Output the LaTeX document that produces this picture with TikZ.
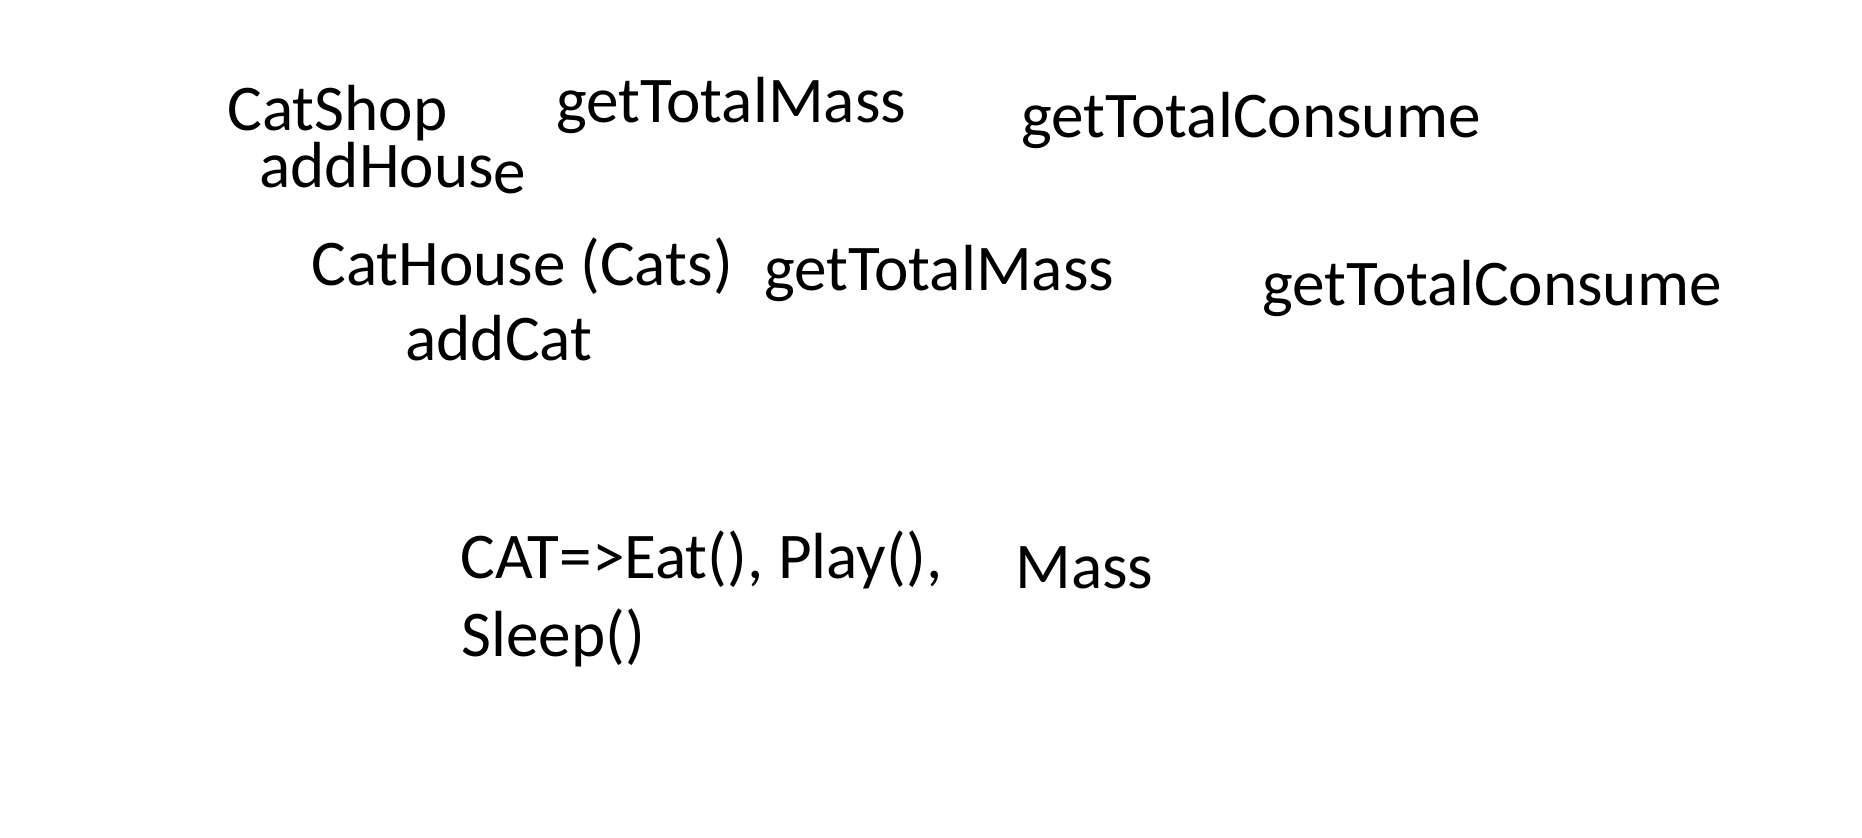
\documentclass[tikz,border=0pt]{standalone}
\usepackage{fontspec}
\setmainfont{Carlito}
\begin{document}
\begin{tikzpicture}[x=0.5pt, y=-0.5pt]
				\tikzstyle{Label} = [anchor=base west, inner sep=0pt, font=\fontsize{32.6}{39}\selectfont]
				\useasboundingbox (0,0) rectangle (1862,838);
				\node (Shop) at (227,131) [Label] {CatShop};
				\node (AddHouse) at (259,188) [Label] {addHous\raisebox{-3pt}{e}};
				\node (ShopMass) at (556,123) [Label] {getTotalMass};
				\node (ShopConsume) at (1021,138) [Label] {getTotalConsume};
				\node (House) at (311,286) [Label] {CatHouse (Cats)};
				\node (AddCat) at (405,361) [Label] {addCat};
				\node (HouseMass) at (764,291) [Label] {getTotalMass};
				\node (HouseConsume) at (1262,306) [Label] {getTotalConsume};
				\node (Cat) at (460,579) [Label] {CAT=>Eat(), Play(),};
				\node (Sleep) at (461,657) [Label] {Sleep()};
				\node (Mass) at (1015,589) [Label] {Mass};
			\end{tikzpicture}
\end{document}
